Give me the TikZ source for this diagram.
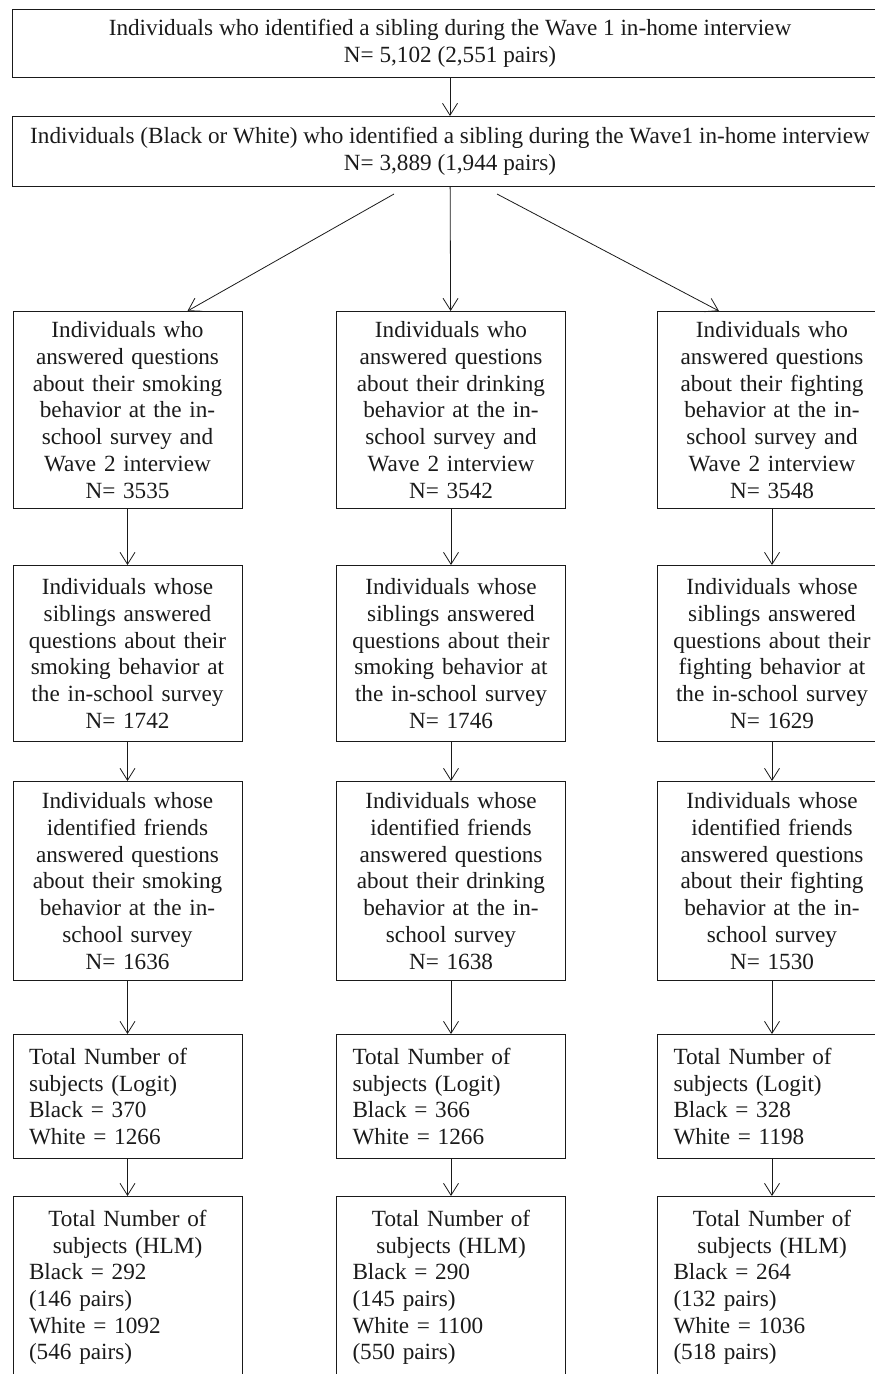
\documentclass[tikz,border=0pt]{standalone}
\usepackage{fontspec}
\setmainfont{Liberation Serif}
\usepackage{tikz}
\usetikzlibrary{arrows.meta}
\definecolor{Ink}{HTML}{1A1A1A}
\setlength{\parindent}{0pt}

\begin{document}
\begin{tikzpicture}[x=1pt,y=1pt,
    box/.style={draw=Ink,line width=1pt,inner sep=0pt,align=center,text=Ink,
      font=\fontsize{23.2}{26.7}\selectfont},
    cnt/.style={box,anchor=north,minimum width=229pt,text width=205pt},
    lst/.style={box,anchor=north,minimum width=229pt,text width=197pt,align=left},
    arr/.style={Ink,line width=0.8pt,-{Straight Barb[length=12pt,width=15pt]}}]
  \useasboundingbox (0,0) rectangle (875,-1374);
  \clip (0,0) rectangle (875,-1374);
  \node[box,anchor=north,minimum width=876pt,minimum height=68pt] (top) at (450,-9)
    {Individuals who identified a sibling during the Wave 1 in-home interview\\N= 5,102 (2,551 pairs)};
  \node[box,anchor=north,minimum width=876pt,minimum height=70pt] (race) at (450,-116)
    {Individuals (Black or White) who identified a sibling during the Wave1 in-home interview\\N= 3,889 (1,944 pairs)};
  \draw[arr] (top) -- (race);
  \foreach \col/\x/\beh/\behb/\na/\nb/\nc/\bk/\wt/\bkh/\pbk/\wth/\pwt in {
    smk/127.5/smoking/smoking/3535/1742/1636/370/1266/292/146/1092/546,
    drk/451/drinking/smoking/3542/1746/1638/366/1266/290/145/1100/550,
    fgt/772/fighting/fighting/3548/1629/1530/328/1198/264/132/1036/518} {
    \node[cnt,minimum height=197pt] (\col1) at (\x,-311)
      {Individuals who\\answered questions\\about their \beh\\behavior at the in-\\school survey and\\Wave 2 interview\\N= \na};
    \node[cnt,minimum height=176pt] (\col2) at (\x,-565)
      {Individuals whose\\siblings answered\\questions about their\\\behb{} behavior at\\the in-school survey\\N= \nb};
    \node[cnt,minimum height=199pt] (\col3) at (\x,-781)
      {Individuals whose\\identified friends\\answered questions\\about their \beh\\behavior at the in-\\school survey\\N= \nc};
    \node[lst,minimum height=124pt] (\col4) at (\x,-1034)
      {Total Number of\\subjects (Logit)\\Black = \bk\\White = \wt};
    \node[lst,minimum height=182pt] (\col5) at (\x,-1196)
      {{\centering Total Number of\\subjects (HLM)\par}Black = \bkh\\(\pbk{} pairs)\\White = \wth\\(\pwt{} pairs)};
    \draw[arr] (\col1) -- (\col2);
    \draw[arr] (\col2) -- (\col3);
    \draw[arr] (\col3) -- (\col4);
    \draw[arr] (\col4) -- (\col5);
  }
  \draw[arr] ([xshift=-56pt,yshift=-7pt]race.south) -- ([xshift=60pt]smk1.north);
  \draw[arr] (race) -- (drk1);
  \draw[arr] ([xshift=47pt,yshift=-7pt]race.south) -- ([xshift=-53pt]fgt1.north);
\end{tikzpicture}
\end{document}
